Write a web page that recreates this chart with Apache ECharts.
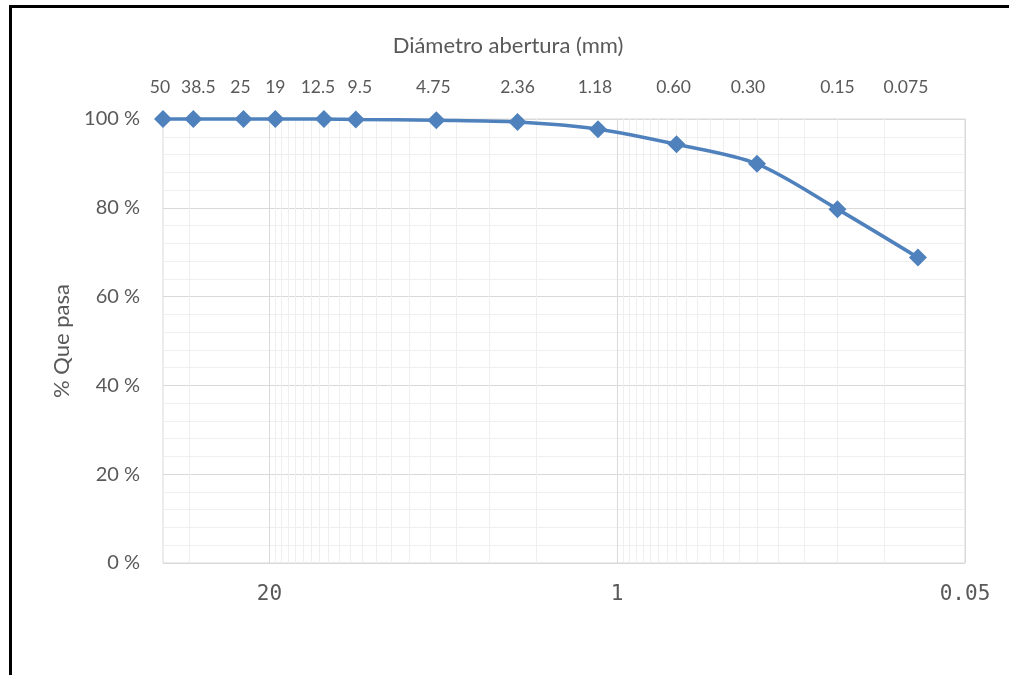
<!DOCTYPE html>
<html>
<head>
<meta charset="utf-8">
<script src="https://cdn.jsdelivr.net/npm/echarts@6/dist/echarts.min.js"></script>
<style>
  html, body { margin: 0; padding: 0; background: #fff; }
  #chart { width: 1009px; height: 675px; }
</style>
</head>
<body>
<div id="chart"></div>
<script>
// ---- data ----
const sieveLabels = ['50', '38.5', '25', '19', '12.5', '9.5', '4.75', '2.36', '1.18', '0.60', '0.30', '0.15', '0.075'];
const sieveSizes = [50, 38.5, 25, 19, 12.5, 9.5, 4.75, 2.36, 1.18, 0.60, 0.30, 0.15, 0.075];
const percentPassing = [100, 100, 100, 100, 100, 99.9, 99.7, 99.3, 97.7, 94.3, 89.9, 79.7, 68.8];
const bottomTicks = [20, 1, 0.05];
const minorXTicks = [40, 19, 18, 17, 16, 15, 14, 13, 12, 11, 10, 9, 8, 7, 6, 5, 4, 3, 2,
  0.95, 0.9, 0.85, 0.8, 0.75, 0.7, 0.65, 0.6, 0.55, 0.5, 0.45, 0.4, 0.35, 0.3, 0.25, 0.2, 0.15, 0.1];
const xMin = 0.05, xMax = 50;
const yMin = 0, yMax = 100, yStep = 20;

const textColor = '#595959';
const mainFont = 'Lato, "Open Sans", sans-serif';

// label nudges (style only): rich-text styles moving a top label left or right of its point
const topLabelRich = {
  l6: { padding: [0, 6, 0, 0] },
  l12: { padding: [0, 12, 0, 0] },
  l18: { padding: [0, 18, 0, 0] },
  l24: { padding: [0, 24, 0, 0] },
  r8: { padding: [0, 0, 0, 8] },
  r10: { padding: [0, 0, 0, 10] },
  n: {}
};
const topLabelNudge = { '50': 'l6', '38.5': 'r10', '25': 'l6', '19': 'n', '12.5': 'l12', '9.5': 'r8',
  '4.75': 'l6', '2.36': 'n', '1.18': 'l6', '0.60': 'l6', '0.30': 'l18', '0.15': 'n', '0.075': 'l24' };

function sieveLabel(v) {
  for (let i = 0; i < sieveSizes.length; i++) {
    if (Math.abs(sieveSizes[i] - v) < 1e-6 * Math.max(1, v)) {
      const t = sieveLabels[i];
      return '{' + (topLabelNudge[t] || 'n') + '|' + t + '}';
    }
  }
  return '';
}

const baseLogAxis = {
  type: 'log', logBase: 20, min: xMin, max: xMax, inverse: true,
  axisLine: { show: false }
};

const richWithFont = {};
Object.keys(topLabelRich).forEach(k => {
  richWithFont[k] = Object.assign({ color: textColor, fontSize: 17.5, fontFamily: mainFont }, topLabelRich[k]);
});

const chart = echarts.init(document.getElementById('chart'), null, { renderer: 'canvas' });
chart.setOption({
  animation: false,
  backgroundColor: '#ffffff',
  grid: { left: 163, right: 44, top: 119, bottom: 112, show: true, borderColor: '#d9d9d9', borderWidth: 1, backgroundColor: 'transparent' },
  graphic: [
    { type: 'rect', shape: { x: 9, y: 5, width: 1000, height: 3 }, style: { fill: '#000' }, z: 100 },
    { type: 'rect', shape: { x: 9, y: 5, width: 3, height: 670 }, style: { fill: '#000' }, z: 100 }
  ],
  xAxis: [
    Object.assign({}, baseLogAxis, {
      position: 'bottom',
      axisTick: { show: false, customValues: bottomTicks },
      axisLabel: {
        customValues: bottomTicks, color: textColor, fontSize: 21,
        fontFamily: '"DejaVu Sans Mono", monospace', margin: 21,
        formatter: function (v) { return String(+v.toPrecision(6)); }
      },
      splitLine: { show: true, lineStyle: { color: '#d9d9d9', width: 1 } },
      z: 2
    }),
    Object.assign({}, baseLogAxis, {
      position: 'bottom',
      axisTick: { show: false, customValues: minorXTicks },
      axisLabel: { show: false, customValues: minorXTicks },
      splitLine: { show: true, lineStyle: { color: '#efefef', width: 1 } },
      z: 1
    }),
    Object.assign({}, baseLogAxis, {
      position: 'top',
      name: 'Diámetro abertura (mm)',
      nameLocation: 'middle',
      nameGap: 62,
      nameTextStyle: { color: textColor, fontSize: 22, fontFamily: mainFont, padding: [0, 112, 0, 0] },
      axisTick: { show: false, customValues: sieveSizes },
      axisLabel: {
        customValues: sieveSizes, color: textColor, fontSize: 17.5, fontFamily: mainFont, margin: 23,
        hideOverlap: false,
        rich: richWithFont,
        formatter: function (v) { return sieveLabel(v); }
      },
      splitLine: { show: false }
    })
  ],
  yAxis: {
    type: 'value', min: yMin, max: yMax, interval: yStep,
    name: '% Que pasa', nameLocation: 'middle', nameRotate: 90, nameGap: 90,
    nameTextStyle: { color: textColor, fontSize: 22, fontFamily: mainFont },
    axisLine: { show: false }, axisTick: { show: false },
    axisLabel: { color: textColor, fontSize: 20, fontFamily: mainFont, margin: 23, formatter: '{value} %' },
    splitLine: { show: true, lineStyle: { color: '#d9d9d9', width: 1 } },
    minorTick: { show: false, splitNumber: 5 },
    minorSplitLine: { show: true, lineStyle: { color: '#efefef', width: 1 } }
  },
  series: [{
    type: 'line',
    xAxisIndex: 0,
    data: sieveSizes.map((s, i) => [s, percentPassing[i]]),
    smooth: 0.3,
    symbol: 'diamond',
    symbolSize: 18,
    clip: false,
    lineStyle: { color: '#4f81bd', width: 3.5 },
    itemStyle: { color: '#4f81bd' },
    z: 10
  }]
});
</script>
</body>
</html>
